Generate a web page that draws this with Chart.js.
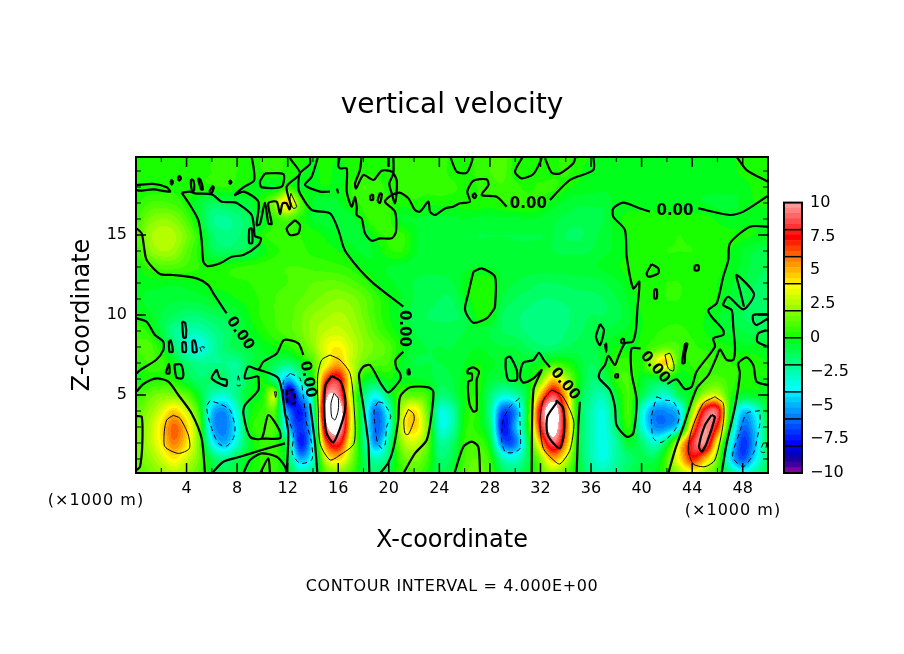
<!DOCTYPE html>
<html>
<head>
<meta charset="utf-8">
<style>
  html, body { margin: 0; padding: 0; background: #fff; }
  #wrap { position: relative; width: 904px; height: 654px; overflow: hidden; }
  #main { position: absolute; left: 0; top: 0; }
  #bar { position: absolute; left: 770px; top: 193px; }
</style>
<script src="https://cdn.jsdelivr.net/npm/chart.js@4"></script>
</head>
<body>
<div id="wrap">
  <canvas id="main" width="904" height="654"></canvas>
  <canvas id="bar" width="134" height="297"></canvas>
</div>
<script>
// w at x = 0..50 (1 km steps), one array per height z = 0..20
const z00 = [1,1.5,2,2.5,2,1,-0.5,-1,-0.5,0, 0.5,0.5,-0.5,-2,-1.5,1,1.5,0.8,-0.8,-1.5, -0.5,0.5,1,0.3,-1,-0.5,1,1.5,0.8,-1, -1.5,-0.5,1,2,1,-0.5,-2,-2.5,-1.8,-1, -0.5,-0.3,0.5,2,3,2,0.5,-1.5,-3,-2,-0.8];
const z01 = [1.5,2,3,4,3,1.5,-1,-2,-1,-0.2, 0.5,0.6,-1,-5,-3,3,4.5,2,-1,-2.5, -1.5,1,1.8,0.8,-1.5,-1,0.8,1.2,0.5,-2.5, -3,-1,2,5,3,-0.5,-2.5,-3.3,-2.3,-1.5, -1,-1,1,4,7,5,1.5,-4,-6.5,-4,-1.5];
const z02 = [1.5,2.5,4,5.8,4.2,1.5,-3.5,-5,-3,-0.5, 0.5,0.5,-1.5,-7.5,-3.5,6,8,3,-1.5,-5.5, -2,2,3,1.5,-2,-1.5,0.5,0.8,-0.5,-6, -6,-1,5,9,5.5,-0.5,-2.5,-3.4,-2.3,-0.5, -1.5,-3,-1,3.5,8,9.5,3.5,-3,-7,-4.8,-1];
const z03 = [1.5,2.5,4.2,6.2,4.5,1.2,-4.8,-5.8,-3.6,0, 0.7,0.8,-4.5,-7,-3.5,9,11,4,-2,-6.2, -3.5,3,4.5,2,-3,-2.5,0.2,0.2,-1.5,-7.5, -5,0,7.5,11,6.5,-0.5,-2.5,-3.4,-1.5,0.5, -3,-5.5,-5.5,-3.5,5,9.5,7,-1,-6,-4.5,-1];
const z04 = [1.2,2,3.2,4.5,3,0.5,-4.6,-5.5,-3,-0.3, 0.5,0.8,-5.5,-7.5,-2.5,10.5,12,4,-2,-6, -3,2.5,4.2,1.5,-3,-2.5,0,0.3,-2,-6.5, -5.5,0,8,11.5,6,-0.5,-2.5,-3.2,-1.2,0.8, -3,-5.5,-5.5,-4.2,2,8,8.5,0,-4.5,-3.5,-0.5];
const z05 = [0.5,1.3,1.8,1.8,1.2,-0.5,-2.5,-3,-1.8,-0.3, 0,2.5,-9,-5.5,-2,9,9.5,3,-1.5,-3.5, -1,1,1.2,0.8,-1.5,-1.2,0,0.3,-1.5,-3, -2.5,-0.3,5,8.5,5,-0.3,-2,-2.5,-0.5,0.8, -1,-2.5,-3,-1,0,2.5,3,0.5,-0.5,-0.3,-0.2];
const z06 = [-0.2,0.2,0.3,0.2,-0.8,-1.5,-1.5,-1.5,-2.2,-0.8, 0,-2,-5,-2.5,0,6.5,8,3.5,0,-0.5, 0,-0.3,-0.3,-0.5,-1,-0.8,-0.2,0.2,-0.6,-0.8, -0.5,-0.2,1.5,4.5,2.5,0,-1.5,-1.2,0.5,0.8, -0.3,-0.8,-0.5,-0.3,0,0.8,1,0.6,0.2,0,0];
const z07 = [0.3,0.8,0.6,-0.3,-1.5,-2,-2,-2,-2,-1, -0.5,-1,-1.5,-0.5,1,3.5,5,3,1.5,1, 0.8,-0.2,-0.8,-0.8,-0.8,-0.7,-0.4,0,-0.3,-0.5, -0.5,-0.5,-0.2,0.5,0.2,-0.5,-1.2,-0.5,0.4,0.6, 0.2,3,4.5,0.5,0.5,0.8,0.6,0.4,0.3,0.2,0];
const z08 = [0.8,1,0,-1.5,-3,-3.5,-2.5,-1.5,-1,-0.8, -0.3,0,0.3,1,2,3.5,4,3,2,1.5, 1,0,-0.6,-0.8,-0.8,-0.8,-0.6,-0.4,-0.6,-0.8, -0.8,-1.2,-1.5,-1.5,-1.2,-1,-1,-0.5,0,-0.2, 0.2,0.8,1.2,0.8,0.5,0.3,0.2,0,-0.3,-0.3,-0.5];
const z09 = [0.6,0.3,-0.8,-2,-2.5,-2.5,-2,-1.5,-1,-0.3, 0.2,0.7,1,1.5,2.2,2.8,3,2.5,1.8,1, 0.3,-0.3,-0.8,-1,-1,-1,-0.8,-0.5,-0.8,-1.2, -1.4,-1.7,-1.9,-1.9,-1.6,-1.3,-1,-0.8,-0.5,-0.3, 0,0.3,0.5,0.5,0.3,0,-0.3,-0.5,-0.8,-1,-1.2];
const z10 = [0,-0.3,-0.8,-1.2,-1.5,-1.5,-1.2,-1,-0.6,0, 0.5,0.8,1,1.5,2,2.3,2.5,2.2,1.5,0.7, 0,-0.5,-1,-1.2,-1.3,-1.3,-1,0.1,0.1,-1.2, -1.5,-1.7,-1.9,-1.9,-1.7,-1.4,-1.2,-1.2,-1,-0.5, 0,0.2,0.3,0.3,0.2,0,-0.3,-0.8,-1.2,-1.5,-1.5];
const z11 = [-0.3,-0.5,-0.6,-0.7,-0.7,-0.6,-0.4,-0.3,0,0.2, 0.5,0.8,1,1.2,1.5,1.8,2,1.8,1.3,0.6, 0,-0.4,-0.8,-1,-1.2,-1.2,-0.4,0.3,0.2,-0.8, -1.2,-1.4,-1.6,-1.6,-1.5,-1.4,-1.3,-1.2,-0.8,-0.3, 0.2,0.3,0.4,0.4,0.3,0.2,0,-0.5,-1,-1.3,-1.5];
const z12 = [-0.2,-0.2,-0.2,-0.3,-0.2,-0.1,0.1,0.2,0.3,0.4, 0.6,0.7,0.8,1,1.2,1.3,1.3,1,0.6,0, -0.3,-0.5,-0.8,-1,-1,-0.8,-0.2,0.3,0.2,-0.5, -0.8,-1,-1.2,-1.2,-1.1,-1,-1,-0.8,-0.5,-0.1, 0.2,0.3,0.4,0.4,0.3,0.2,0,-0.3,-0.8,-1.2,-1.3];
const z13 = [-0.1,0.5,1,1,0.7,0.4,0.1,0.2,0.4,0.5, 0.6,0.7,0.8,0.8,0.7,0.6,0.5,0.3,-0.1,-0.3, -0.4,-0.5,-0.6,-0.6,-0.6,-0.6,-0.5,-0.4,-0.4,-0.5, -0.5,-0.6,-0.6,-0.6,-0.6,-0.6,-0.5,-0.3,-0.1,0.2, 0.2,0.3,0.3,0.3,0.2,0.2,0.1,-0.1,-0.5,-1,-1.2];
const z14 = [0.5,1.8,2.4,2.2,1.2,0.2,-1,-1.4,-1.2,-0.9, -0.2,0.3,0.5,0.5,0.3,0.2,0,-0.2,-0.5,-0.3, 0.3,0.4,-0.3,-0.6,-0.6,-0.6,-0.6,-0.6,-0.6,-0.6, -0.7,-0.7,-0.7,-0.8,-0.9,-0.9,-0.8,-0.5,-0.3,0, 0.2,0.3,0.4,0.4,0.4,0.3,0.2,0,-0.4,-0.8,-1];
const z15 = [0.8,2.2,2.7,2.5,1.6,0.3,-1.4,-1.9,-1.7,-1.1, 0.2,0.6,0.6,0.4,0.2,-0.1,-0.4,-0.6,-0.7,0.2, 0.5,0.5,-0.2,-0.7,-0.7,-0.7,-0.7,-0.8,-0.8,-0.8, -0.8,-0.8,-0.8,-0.8,-1.2,-1.3,-1,-0.6,-0.3,0, 0.3,0.3,0.3,0.4,0.3,0.3,0.3,0.2,0.1,0,-0.2];
const z16 = [0.6,1.6,2,1.8,0.9,-0.5,-1.9,-2.1,-1.8,-1.2, -0.5,0.5,1,0.3,-0.4,-0.6,-0.8,-0.6,0.2,0.7, 0.5,-0.4,-0.4,-0.5,-0.5,-0.5,-0.4,-0.5,-0.5,-0.5, -0.5,-0.4,-0.5,-0.7,-0.9,-1,-1,-0.8,-0.2,0.2, 0.3,0.3,0.3,0.3,0.2,0.2,-0.1,-0.4,-0.3,-0.2,-0.2];
const z17 = [0.3,0.8,0.9,0.7,0.2,-0.6,-1.2,-1.1,-0.9,-0.6, 0.3,2,4.5,1.2,-0.4,-0.6,-0.4,0.2,0.5,0.6, 0.5,0.1,0.3,0.1,0.1,0.1,0.2,0.3,0.2,0.4, 0.5,0.5,0.3,-0.2,-0.5,-0.7,-0.7,-0.7,-0.3,-0.3, -0.3,-0.3,-0.3,-0.3,-0.3,-0.4,-0.5,-0.5,-0.3,0,0.1];
const z18 = [0,0.1,0.2,0.3,0.3,0.3,0.3,0.4,0.2,-0.1, -0.3,-0.4,0.5,-0.4,-0.2,0,-0.2,0.4,0.8,0.6, 0.3,0.5,0.6,0.6,0.7,0.5,0.3,0.4,0.6,0.7, 0.5,0.3,0.5,0.5,0.1,-0.1,-0.2,-0.3,-0.3,-0.3, -0.3,-0.3,-0.3,-0.3,-0.3,-0.3,-0.3,-0.3,-0.3,0.2,0.4];
const z19 = [0.2,0.2,0.3,0.3,0.3,0.3,0.4,0.4,0.4,0.1, 0.4,0.5,0.3,0.2,-0.3,0.3,-0.3,0.2,0.3,0.3, 0.3,0.5,0.6,0.7,0.7,0.2,0.1,0.5,0.8,1, 0.2,0.3,0.1,0.2,0.5,0.1,-0.2,-0.3,-0.3,-0.3, -0.3,-0.3,-0.3,-0.3,-0.3,-0.3,-0.3,-0.3,0.2,0.3,0.3];
const z20 = [0.3,0.3,0.3,0.3,0.3,0.3,0.4,0.4,0.4,0.3, 0.4,0.5,0.4,0.3,0.1,0.3,0.1,0.3,0.3,0.3, 0.3,0.5,0.6,0.7,0.7,0.3,0.3,0.5,0.8,1, 0.3,0.3,0.2,0.3,0.5,0.2,0,-0.2,-0.2,-0.2, -0.2,-0.2,-0.2,-0.2,-0.2,-0.2,-0.2,-0.2,0.3,0.3,0.3];
const field = [z00,z01,z02,z03,z04,z05,z06,z07,z08,z09,z10,z11,z12,z13,z14,z15,z16,z17,z18,z19,z20];

// colour levels, one per 0.4 band from -10 to 10
const bandColors = [
  '#8000a0','#4000a0','#1a00a0','#0000c0','#0000e0',
  '#0000ff','#001aff','#0033ff','#004dff','#0066ff',
  '#0080ff','#0099ff','#00b3ff','#00ccff','#00e6ff',
  '#00ffff','#00ffe6','#00ffcc','#00ffb3','#00ff99',
  '#00ff80','#00ff66','#00ff4d','#00ff33','#00ff1a',
  '#1aff00','#33ff00','#4dff00','#66ff00','#80ff00',
  '#99ff00','#b3ff00','#ccff00','#e6ff00','#ffff00',
  '#ffe600','#ffcc00','#ffb300','#ff9900','#ff8000',
  '#ff6000','#ff4000','#ff2000','#ff0000','#ff1a1a',
  '#ff3333','#ff4d4d','#ff6666','#ff8080','#ff9999'
];

const xTicks = [0,4,8,12,16,20,24,28,32,36,40,44,48];
const xMinorTicks = [2,6,10,14,18,22,26,30,34,38,42,46,50];
const zTicks = [5,10,15];
const zMinorTicks = [1,2,3,4,6,7,8,9,11,12,13,14,16,17,18,19];
const barTicks = [-10,-7.5,-5,-2.5,0,2.5,5,7.5,10];
const barLines = [-8,-6,-4,-2,0,2,4,6,8];

// contours as [x, z] lists
const zeroLines = [
  [[.05,15.41],[.45,15.1],[.63,14.27],[.84,13.44],[1.9,12.56],[2.95,12.5],[4.8,12.29],[5.72,11.87],[6.12,11.35],[7.17,10.1]],
  [[9.15,19.89],[9.33,19.06],[9.33,18.39],[8.49,17.98],[7.83,17.5],[8.54,17.71],[9.68,17.08],[9.55,15.62],[9.81,15.69],[10.2,17.02],[10.47,15.73],[10.73,15.69],[10.47,16.98],[11.13,17.08],[11.39,16.31],[11.6,16.98],[11.92,16.98],[12.13,16.6],[12.24,16.87],[11.92,18.02],[12.97,18.85],[12.24,19.73],[12.18,19.89]],
  [[13.76,19.89],[13.76,19.44],[12.97,18.85],[12.84,18.02],[12.97,17.6],[13.9,16.56],[15.35,16.35],[16.01,15.31],[16.4,14.27],[16.67,13.85],[17.72,12.81],[18.78,11.98],[21.15,10.52]],
  [[21.15,7.71],[20.54,7.19],[20.62,6.66],[20.89,6.35],[20.89,5.94],[19.96,5.16],[19.44,5.62],[18.51,6.87],[17.99,6.77],[17.64,6.25],[17.99,4.27],[18.38,1.98],[18.46,.1]],
  [[.05,9.79],[.84,9.58],[1.5,8.75],[2.16,8.33],[2.16,7.81],[1.58,7.19],[.32,6.56],[.05,6.35]],
  [[.05,5.21],[.58,5.69],[1.63,6.04],[2.56,5.83],[3.35,5],[4.4,3.85],[5.19,2.29],[5.46,.1]],
  [[.05,3.68],[.45,3.64],[.5,1.98],[.32,.52],[.05,.31]],
  [[13.24,7.5],[12.84,8.23],[11.71,8.44],[11.13,7.6],[10.07,7.08],[9.68,6.6],[8.89,6.77],[8.62,6.04],[9.68,6.19]],
  [[9.68,6.6],[11.26,6.04],[11.79,3.85],[12.05,2.6],[11.92,.1]],
  [[9.68,6.19],[9.68,5.31],[8.62,4.37],[8.49,3.85],[9.02,2.39],[9.94,2.29],[10.47,3.75],[11.34,2.81],[11.39,2.29],[9.94,2.29]],
  [[5.99,.1],[6.91,.83],[8.23,1.14],[9.94,1.56],[11.79,1.98]],
  [[8.49,.1],[9.02,.94],[9.94,1.35],[11.13,1.14],[11.79,.52],[11.92,.1]],
  [[9.81,.1],[10.47,1.04],[10.6,.1]],
  [[13.76,4.48],[14.16,1.98],[14.35,.1]],
  [[19.3,.1],[19.96,.77],[20.36,1.66],[20.75,3.44],[20.89,4.89],[21.68,5.48],[23.13,5.48],[23.52,5.21],[23.39,3.85],[23,2.19],[22.07,1.35],[21.15,.1]],
  [[25.19,.1],[25.9,1.77],[26.56,2.08],[27.08,1.77],[27.22,.1]],
  [[32.75,6.73],[32.23,7.23],[31.88,7.64],[31.44,7.19],[30.64,7.02],[30.38,6.14],[30.64,5.77],[31.44,6.04],[32.09,6.56],[31.44,5.31],[31.3,.1]],
  [[35.12,4.58],[34.99,3.02],[34.86,.1]],
  [[40.66,16.46],[39.87,16.66],[38.55,17.02],[37.76,16.66],[37.76,16.14],[38.68,15.31],[38.82,13.64],[39.34,11.66],[39.82,12.08],[39.66,10.31],[39.55,9.06],[39.29,8.33],[38.68,8.23],[38.16,7.39],[37.89,6.87],[37.37,7.44],[37.1,6.87],[36.71,6.46],[36.65,6.04],[37.5,5.31],[37.89,4.27],[38.02,3.12],[38.82,2.39],[39.34,2.6],[39.61,4.69],[39.21,6.35],[39.21,7.91],[39.92,7.91]],
  [[42.03,5.69],[42.77,5.98],[43.43,5.37],[43.96,5.52],[44.35,6.46],[45.8,8.02],[45.67,8.54],[46.46,8.75],[46.46,9.06],[45.54,9.89],[45.28,10.31],[45.94,10.73],[46.46,12.39],[46.86,13.43],[46.99,14.48],[48.57,15.52],[50,15.52]],
  [[42.11,.1],[42.64,1.56],[43.3,3.02],[44.35,5.41],[45.28,6.25],[45.94,7.39],[46.2,7.85],[46.73,7.19],[47.25,7.19],[47.39,7.91],[47.25,9.27],[47.12,10.31],[46.46,10.62],[46.86,11.14],[48.05,10.35],[48.89,11.31],[47.52,12.5],[47.78,11.56],[48.1,10.52]],
  [[46.33,.1],[46.73,1.98],[47.39,4.27],[47.78,6.35],[47.65,6.98],[48.31,7.35],[48.84,6.87],[49.1,5.83],[50,5.62]],
  [[49.89,9.06],[49.23,8.85],[49.15,8.33],[49.89,8.06]],
  [[50,10.06],[48.84,10],[48.84,9.58],[49.1,9.37],[50,9.79]],
  [[47.52,19.89],[48.31,19.06],[50,18.33]],
  [[29.33,16.77],[28.53,17.39],[27.35,17.5],[27.88,18.12],[27.74,18.48],[26.69,18.39],[26.21,17.71],[26.42,17.08],[25.63,16.98],[25.1,16.77],[24.45,16.66],[23.66,16.25],[23.26,16.46],[23.13,17.08],[22.47,16.46],[22.07,16.56],[21.55,17.29],[20.89,17.64],[20.23,17.5],[19.7,17.08],[20.49,16.46],[20.57,15.21],[20.23,14.79],[19.3,14.79],[18.65,14.64],[18.12,15.1],[17.85,16.04],[17.46,16.25],[17.46,16.77],[17.33,17.39],[17.06,16.77],[16.67,17.71],[16.67,19.16],[16.14,19.16],[16,19.37],[16.14,19.95]],
  [[32.75,17.19],[34.33,18.44],[36.18,19.06],[36.18,19.95]],
  [[44.49,16.66],[46.99,16.25],[48.05,16.46],[50,17.45]],
  [[17.85,19.95],[17.72,19.06],[17.33,18.23],[17.41,17.91],[17.99,18.75],[18.78,18.44],[19.44,19.02],[20.23,18.96],[20.62,18.44],[20.62,17.71],[20.49,16.98],[20.23,17.6],[20.04,18.23],[20.36,18.85],[20.36,19.95]],
  [[19.96,19.95],[19.96,19.27]],
  [[24.84,19.95],[25.37,18.96],[26.16,18.89],[26.61,19.69],[26.61,19.95]],
  [[30.64,19.95],[29.98,18.96],[30.51,18.54],[31.44,18.81],[32.04,19.69],[32.1,19.95]],
  [[32.36,19.79],[32.89,18.89],[33.54,18.85],[34.6,19.48],[34.8,19.95]],
  [[14.42,19.95],[13.9,18.64],[13.37,18.12],[14.56,17.71],[15.35,17.71]],
  [[15.9,17.9],[16,17.6]],
  [[.05,18.12],[1.37,18.19],[2.43,17.98],[2.69,17.71],[1.37,17.85],[.32,17.77],[.05,17.8]]
];
const zeroLoops = [
  [[3.61,17.64],[4.27,17.71],[4.67,17.6],[5.99,17.54],[6.78,17.08],[7.83,17.04],[8.49,16.73],[9.15,16.25],[9.33,15.52],[9.41,14.93],[9.89,14.79],[9.68,14.37],[8.49,13.75],[7.57,13.64],[6.65,13.23],[5.64,13.06],[5.33,13.33],[5.19,14.68],[4.93,15.93],[4.27,16.87]],
  [[10.2,18.85],[11.66,18.81],[11.52,18.02],[9.94,17.98],[9.81,18.33]],
  [[12.58,15.93],[12.97,15.62],[12.84,15.1],[12.18,15],[11.92,15.41]],
  [[8.95,15.4],[9.15,15.4],[9.2,14.5],[8.95,14.5]],
  [[2.72,18.29],[2.82,18.45],[2.92,18.29],[2.82,18.15]],
  [[3.3,18.54],[3.43,18.7],[3.56,18.54],[3.43,18.4]],
  [[4.35,18.5],[4.55,18.4],[4.6,17.8],[4.45,17.75],[4.35,18.1]],
  [[4.9,18.55],[5.1,18.45],[5.3,17.85],[5.15,17.85]],
  [[5.8,17.7],[6.05,18.05],[6.15,17.95],[5.95,17.6]],
  [[7.35,18.3],[7.45,18.4],[7.55,18.3],[7.45,18.2]],
  [[3.65,9.6],[3.9,9.5],[3.95,8.6],[3.75,8.6]],
  [[2.6,8.4],[2.75,8.4],[2.9,7.7],[2.65,7.7]],
  [[3.65,8.3],[3.9,8.3],[3.95,7.7],[3.7,7.7]],
  [[4.45,8.4],[4.65,8.4],[4.8,7.7],[4.5,7.7]],
  [[2.35,6.35],[2.6,6.95],[2.65,6.35]],
  [[3.03,6.91],[3.55,6.9],[3.75,6.3],[3.65,6.04],[3.2,6.1]],
  [[6.38,6.6],[6.65,6.04],[7.17,5.94],[7.12,5.56],[5.99,6.04]],
  [[26.24,6.6],[26.69,6.73],[27.14,6.46],[26.95,5.94],[26.95,4.06],[26.69,3.96],[26.37,4.48],[26.29,5.83],[26.56,5.94],[26.56,6.35],[26.24,6.35]],
  [[29.25,7.29],[29.59,7.4],[30.12,6.56],[30.12,5.94],[29.46,5.94],[29.25,6.66]],
  [[36.71,9.44],[37.02,9.06],[36.71,8.12],[36.39,8.64]],
  [[37.1,8.2],[37.2,8.2],[37.2,7.7]],
  [[43.45,8.23],[43.62,8.2],[43.45,7.6],[43.4,7],[43.22,7],[43.3,7.6]],
  [[38.4,8.5],[38.6,8.5],[38.6,8.25],[38.4,8.25]],
  [[37.92,6.3],[38.12,6.3],[38.12,6.1],[37.92,6.1]],
  [[21.5,6.6],[21.6,6.6],[21.65,6.3],[21.5,6.3]],
  [[18.55,17.5],[18.75,17.5],[18.75,17.2],[18.55,17.2]],
  [[19.1,17.1],[19.3,17.6],[19.45,17.55],[19.3,17]],
  [[26.6,17.45],[26.77,17.6],[26.92,17.45],[26.77,17.3]],
  [[26.69,12.71],[27.35,12.91],[28.4,12.39],[28.4,10.52],[28.27,10.31],[27.74,9.79],[26.69,9.52],[26.03,10.31],[26.29,11.35]],
  [[40.79,13.18],[41.32,12.91],[41.32,12.6],[40.53,12.39],[40.4,12.6]],
  [[44.2,13.1],[44.5,13.1],[44.5,12.8],[44.2,12.8]],
  [[41,11.6],[41.2,11.6],[41.2,11.05],[41,11.05]]
];
const plus4Loops = [
  [[2.95,3.73],[2.43,3.44],[2.24,2.71],[2.29,1.77],[3.35,1.35],[4.22,1.66],[4.14,2.5],[3.48,3.54]],
  [[15.35,7.5],[14.69,7.19],[14.37,6.14],[14.42,4.06],[14.56,1.98],[15.35,.94],[16.14,1.25],[17.25,1.98],[17.25,4.27],[16.93,6.35],[16.14,7.19]],
  [[21.55,4.1],[21.2,3.44],[21.28,2.6],[21.55,2.54],[22,3.44],[21.94,3.85]],
  [[32.89,5.31],[32.23,4.69],[31.96,3.23],[32.23,1.66],[33.02,.94],[33.54,.69],[34.33,1.56],[34.65,3.23],[34.33,4.06],[33.67,5]],
  [[41.85,7.5],[42.24,7.6],[42.56,6.87],[42.51,6.5],[42.11,6.66]],
  [[45.8,4.89],[44.88,4.48],[43.96,2.81],[43.69,1.56],[44.09,.69],[45.01,.52],[45.8,.94],[46.46,3.23],[46.46,4.48]],
  [[12.26,17.6],[12.71,16.77],[12.45,16.66],[12.18,17.18]],
  [[10.95,5.2],[11.1,5.2],[11.05,4.85]],
  [[15.66,5.1],[15.43,4.48],[15.48,3.64],[15.74,3.44],[16,4.06],[16,4.79]]
];
const plus8Loops = [
  [[15.48,6.19],[15,5.62],[14.9,4.06],[15.08,2.6],[15.61,2.04],[16.14,2.91],[16.54,4.06],[16.54,4.89],[16.14,5.89]],
  [[33.28,4.52],[32.54,3.64],[32.54,2.6],[33.02,1.98],[33.54,1.66],[33.86,2.6],[33.8,4.16],[33.28,4.64]],
  [[45.54,3.75],[45.01,3.12],[44.54,1.77],[44.75,1.46],[45.14,1.98],[45.8,3.64]]
];
const minus4Loops = [
  [[5.85,4.64],[5.59,4.27],[5.85,3.23],[6.51,1.98],[7.17,1.81],[7.7,2.29],[7.83,3.02],[7.44,4.06],[6.65,4.44]],
  [[12.18,6.35],[11.66,5.83],[11.79,4.06],[12.45,2.6],[12.37,1.35],[12.97,.73],[13.9,.94],[13.9,1.98],[13.5,3.23],[13.24,4.89],[12.97,6.04]],
  [[19.17,4.58],[18.86,4.16],[18.86,3.44],[19.09,2.08],[19.44,1.66],[19.7,1.87],[19.83,3.02],[20.15,3.64],[19.96,4.06],[19.57,4.48]],
  [[30.33,4.79],[29.59,4.27],[29.06,3.44],[28.93,2.19],[29.19,1.46],[29.72,1.39],[30.38,1.66],[30.38,3.23]],
  [[41.19,4.89],[41.85,4.69],[42.51,4.58],[42.98,3.75],[42.64,2.81],[41.58,2.04],[40.93,2.29],[40.79,3.64]],
  [[49.36,4.02],[48.31,3.85],[47.78,2.71],[47.2,1.14],[48.05,.52],[48.84,1.35],[49.36,3.23]],
  [[49.63,2],[49.4,1.5],[49.7,1.4],[49.9,2]],
  [[8.1,6.2],[8.25,5.6],[8,5.6],[8.05,6]],
  [[5.05,8],[5.2,7.7],[5.4,8]]
];
const minus8Lines = [
  [[11.92,5.31],[11.97,4.48]],
  [[12.1,5.3],[12.45,5.31],[12.58,4.48],[12.18,4.48]]
];

// "0.00" contour labels: x, z, rotation in degrees
const labelX = [31.04,42.64,8.23,13.58,21.23,41.06,33.94];
const labelZ = [16.93,16.52,8.85,5.98,9.16,6.73,5.69];
const labelRot = [0,0,55,80,90,50,50];

const FONT = '"DejaVu Sans", sans-serif';

function toPoints(list, close) {
  const pts = list.map(p => ({ x: p[0], y: p[1] }));
  if (close) pts.push({ x: list[0][0], y: list[0][1] });
  return pts;
}

function contourSet(lists, close, width, dash) {
  return lists.map(list => ({
    data: toPoints(list, close),
    showLine: true,
    pointRadius: 0,
    borderColor: '#000',
    borderWidth: width,
    borderDash: dash,
    tension: 0.25
  }));
}

function bandColor(v) {
  if (v >= 10) return [255, 255, 255];
  const i = Math.max(0, Math.floor((v + 10) / 0.4));
  const c = bandColors[Math.min(i, bandColors.length - 1)];
  return [parseInt(c.slice(1, 3), 16), parseInt(c.slice(3, 5), 16), parseInt(c.slice(5, 7), 16)];
}

// Catmull-Rom weights, only used to paint between the grid values
function cubic(a, b, c, d, t) {
  return b + 0.5 * t * (c - a + t * (2 * a - 5 * b + 4 * c - d + t * (3 * (b - c) + d - a)));
}

function sampleField(x, z) {
  const i = Math.min(49, Math.max(0, Math.floor(x)));
  const j = Math.min(19, Math.max(0, Math.floor(z)));
  const col = [];
  for (let n = -1; n <= 2; n++) {
    const row = field[Math.min(20, Math.max(0, j + n))];
    col.push(cubic(row[Math.max(0, i - 1)], row[i], row[i + 1], row[Math.min(50, i + 2)], x - i));
  }
  return cubic(col[0], col[1], col[2], col[3], z - j);
}

const fieldPlugin = {
  id: 'field',
  beforeDatasetsDraw(chart) {
    const { ctx, chartArea: a, scales } = chart;
    const w = Math.round(a.right - a.left), h = Math.round(a.bottom - a.top);
    const off = document.createElement('canvas');
    off.width = w; off.height = h;
    const octx = off.getContext('2d');
    const img = octx.createImageData(w, h);
    for (let py = 0; py < h; py++) {
      const z = scales.y.getValueForPixel(a.top + py + 0.5);
      for (let px = 0; px < w; px++) {
        const x = scales.x.getValueForPixel(a.left + px + 0.5);
        const c = bandColor(sampleField(x, z));
        const k = (py * w + px) * 4;
        img.data[k] = c[0]; img.data[k + 1] = c[1]; img.data[k + 2] = c[2]; img.data[k + 3] = 255;
      }
    }
    octx.putImageData(img, 0, 0);
    ctx.drawImage(off, a.left, a.top);
  },
  afterDatasetsDraw(chart) {
    const { ctx, chartArea: a, scales } = chart;
    ctx.save();
    ctx.strokeStyle = '#000';
    // ticks point inwards on all four sides
    const tick = (x1, y1, x2, y2, lw) => {
      ctx.lineWidth = lw;
      ctx.beginPath(); ctx.moveTo(x1, y1); ctx.lineTo(x2, y2); ctx.stroke();
    };
    xTicks.slice(1).forEach(v => {
      const p = scales.x.getPixelForValue(v);
      tick(p, a.bottom, p, a.bottom - 10, 1.5);
      tick(p, a.top, p, a.top + 10, 1.5);
    });
    xMinorTicks.forEach(v => {
      const p = scales.x.getPixelForValue(v);
      tick(p, a.bottom, p, a.bottom - 5, 1);
      tick(p, a.top, p, a.top + 5, 1);
    });
    zTicks.forEach(v => {
      const p = scales.y.getPixelForValue(v);
      tick(a.left, p, a.left + 10, p, 1.5);
      tick(a.right, p, a.right - 10, p, 1.5);
    });
    zMinorTicks.forEach(v => {
      const p = scales.y.getPixelForValue(v);
      tick(a.left, p, a.left + 5, p, 1);
      tick(a.right, p, a.right - 5, p, 1);
    });
    ctx.lineWidth = 2;
    ctx.strokeRect(a.left, a.top, a.right - a.left, a.bottom - a.top);

    // contour labels
    ctx.fillStyle = '#000';
    ctx.font = 'bold 15px ' + FONT;
    ctx.textAlign = 'center';
    ctx.textBaseline = 'middle';
    labelX.forEach((x, i) => {
      ctx.save();
      ctx.translate(scales.x.getPixelForValue(x), scales.y.getPixelForValue(labelZ[i]));
      ctx.rotate(labelRot[i] * Math.PI / 180);
      ctx.fillText('0.00', 0, 0);
      ctx.restore();
    });

    // unit notes and footer
    ctx.font = '16px ' + FONT;
    ctx.letterSpacing = '1px';
    ctx.fillText('(×1000 m)', 96, 501);
    ctx.fillText('(×1000 m)', 733, 511);
    ctx.letterSpacing = '0.6px';
    ctx.fillText('CONTOUR INTERVAL = 4.000E+00', 452, 587);
    ctx.restore();
  }
};

const mainChart = new Chart(document.getElementById('main'), {
  type: 'scatter',
  data: {
    datasets: [
      ...contourSet(zeroLines, false, 2.2, []),
      ...contourSet(zeroLoops, true, 2.2, []),
      ...contourSet(plus4Loops, true, 1, []),
      ...contourSet(plus8Loops, true, 2.2, []),
      ...contourSet(minus4Loops, true, 1, [5, 4]),
      ...contourSet(minus8Lines, false, 2, [5, 3])
    ]
  },
  options: {
    responsive: false,
    animation: false,
    devicePixelRatio: 1,
    layout: { padding: 0 },
    plugins: {
      legend: { display: false },
      tooltip: { enabled: false },
      title: {
        display: true,
        text: 'vertical velocity',
        color: '#000',
        font: { family: FONT, size: 28, weight: 'normal', lineHeight: 1.2 },
        padding: { top: 89, bottom: 34.4 }
      }
    },
    scales: {
      x: {
        type: 'linear',
        min: 0,
        max: 50,
        grid: { display: false, tickLength: 6 },
        border: { display: false },
        afterBuildTicks(s) { s.ticks = xTicks.map(v => ({ value: v })); },
        afterFit(s) { s.height = 181; },
        ticks: {
          color: '#000',
          padding: 0,
          maxRotation: 0,
          autoSkip: false,
          font: { family: FONT, size: 16 },
          callback: v => (v === 0 ? '' : String(v))
        },
        title: {
          display: true,
          text: 'X-coordinate',
          color: '#000',
          font: { family: FONT, size: 24 },
          padding: { top: 0, bottom: 99 }
        }
      },
      y: {
        type: 'linear',
        min: 0.125,
        max: 19.875,
        grid: { display: false },
        border: { display: false },
        afterBuildTicks(s) { s.ticks = zTicks.map(v => ({ value: v })); },
        afterFit(s) { s.width = 136; },
        ticks: {
          color: '#000',
          padding: 1,
          font: { family: FONT, size: 16 },
          callback: v => String(v)
        },
        title: {
          display: true,
          text: 'Z-coordinate',
          color: '#000',
          font: { family: FONT, size: 24 },
          padding: { top: 68, bottom: 0 }
        }
      },
      // empty axis, keeps the room for the colour bar on the right
      yRoom: {
        type: 'linear',
        position: 'right',
        grid: { display: false },
        border: { display: false },
        ticks: { display: false },
        afterFit(s) { s.width = 136; }
      }
    }
  },
  plugins: [fieldPlugin]
});

// colour bar: one floating bar per band
const barOutline = {
  id: 'barOutline',
  afterDatasetsDraw(chart) {
    const { ctx, chartArea: a, scales } = chart;
    ctx.save();
    ctx.strokeStyle = '#000';
    ctx.lineWidth = 1.5;
    barLines.forEach(v => {
      const p = scales.y.getPixelForValue(v);
      ctx.beginPath(); ctx.moveTo(a.left, p); ctx.lineTo(a.right, p); ctx.stroke();
    });
    ctx.lineWidth = 2;
    ctx.strokeRect(a.left, a.top, a.right - a.left, a.bottom - a.top);
    ctx.restore();
  }
};

const barChart = new Chart(document.getElementById('bar'), {
  type: 'bar',
  data: {
    labels: ['w'],
    datasets: bandColors.map((c, i) => ({
      data: [[-10 + i * 0.4, -10 + (i + 1) * 0.4]],
      backgroundColor: c,
      borderWidth: 0,
      grouped: false,
      barPercentage: 1,
      categoryPercentage: 1
    }))
  },
  options: {
    responsive: false,
    animation: false,
    devicePixelRatio: 1,
    layout: { padding: { left: 14, right: 0, top: 0, bottom: 17 } },
    plugins: { legend: { display: false }, tooltip: { enabled: false } },
    scales: {
      x: { display: false },
      y: {
        position: 'right',
        min: -10,
        max: 10,
        grid: { display: false },
        border: { display: false },
        afterBuildTicks(s) { s.ticks = barTicks.map(v => ({ value: v })); },
        afterFit(s) { s.width = 102; },
        ticks: {
          color: '#000',
          padding: 0,
          autoSkip: false,
          font: { family: FONT, size: 16 },
          callback: v => String(v).replace('-', '\u2212')
        }
      }
    }
  },
  plugins: [barOutline]
});
</script>
</body>
</html>
